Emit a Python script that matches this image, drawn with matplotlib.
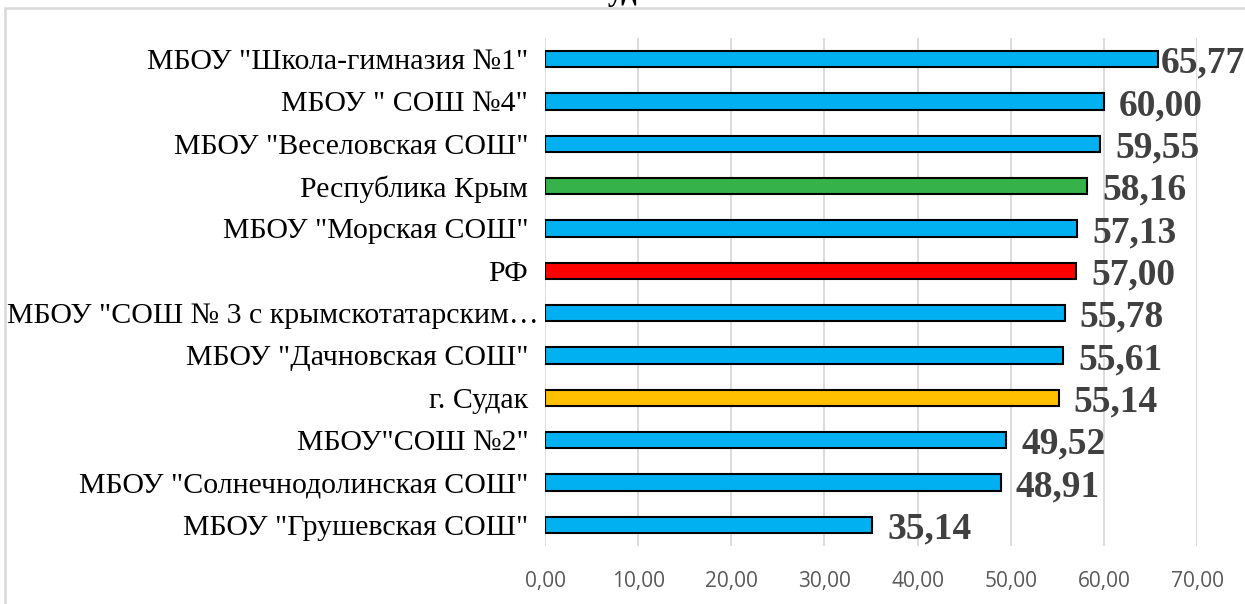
import matplotlib.pyplot as plt
from matplotlib.patches import Rectangle
from matplotlib.transforms import ScaledTranslation

# data, top to bottom as shown
schools = [
    'МБОУ "Школа-гимназия №1"',
    'МБОУ " СОШ №4"',
    'МБОУ "Веселовская СОШ"',
    'Республика Крым',
    'МБОУ "Морская СОШ"',
    'РФ',
    'МБОУ "СОШ № 3 с крымскотатарским…',
    'МБОУ "Дачновская СОШ"',
    'г. Судак',
    'МБОУ"СОШ №2"',
    'МБОУ "Солнечнодолинская СОШ"',
    'МБОУ "Грушевская СОШ"',
]
scores = [65.77, 60.00, 59.55, 58.16, 57.13, 57.00, 55.78, 55.61, 55.14, 49.52, 48.91, 35.14]
bar_colors = ['#00B0F0', '#00B0F0', '#00B0F0', '#35B34A', '#00B0F0', '#FF0000',
              '#00B0F0', '#00B0F0', '#FFC000', '#00B0F0', '#00B0F0', '#00B0F0']
x_ticks = [0, 10, 20, 30, 40, 50, 60, 70]

serif = ['Liberation Serif', 'DejaVu Serif']

fig = plt.figure(figsize=(12.45, 6.04), dpi=100)

# chart frame (light gray), partly cut by the image edges
fig.patches.append(Rectangle((5 / 1245, -0.05), 1.1, 1.05 - 8 / 604,
                             transform=fig.transFigure, fill=False,
                             edgecolor='#D9D9D9', linewidth=1.8))

# cut-off title at the top
fig.text(0.5, 1.012, 'г. Судака', ha='center', va='center',
         fontsize=22, fontweight='bold', family=serif, color='black')

ax = fig.add_axes([545 / 1245, 1 - 546 / 604, 652 / 1245, 508 / 604])

ypos = list(range(len(schools)))
ax.barh(ypos, scores, height=0.38, color=bar_colors, edgecolor='black',
        linewidth=1.5, zorder=3)

ax.set_xlim(0, 70)
ax.set_ylim(len(schools) - 0.5, -0.5)
ax.set_xticks(x_ticks)
ax.set_xticklabels([f'{t:.2f}'.replace('.', ',') for t in x_ticks],
                   fontsize=15, color='#595959', family='Open Sans')
ax.set_yticks(ypos)
ax.set_yticklabels(schools, fontsize=21.5, family=serif, color='black')
ax.tick_params(axis='both', length=0)
ax.tick_params(axis='y', pad=12)
ax.tick_params(axis='x', pad=18)
ax.grid(axis='x', color='#D9D9D9', linewidth=1.3, zorder=0)
for s in ax.spines.values():
    s.set_visible(False)

# the truncated long label runs up to the axis
long_lbl = ax.get_yticklabels()[6]
long_lbl.set_transform(long_lbl.get_transform() +
                       ScaledTranslation(10 / 100, 0, fig.dpi_scale_trans))

# value labels
for i, v in enumerate(scores):
    dx = 2 if i == 0 else 11
    ax.annotate(f'{v:.2f}'.replace('.', ','), xy=(v, i), xytext=(dx, -3),
                textcoords='offset points', ha='left', va='center',
                fontsize=27, fontweight='bold', family=serif,
                color='#404040', annotation_clip=False, zorder=4)

fig.savefig('out.png', dpi=100)
